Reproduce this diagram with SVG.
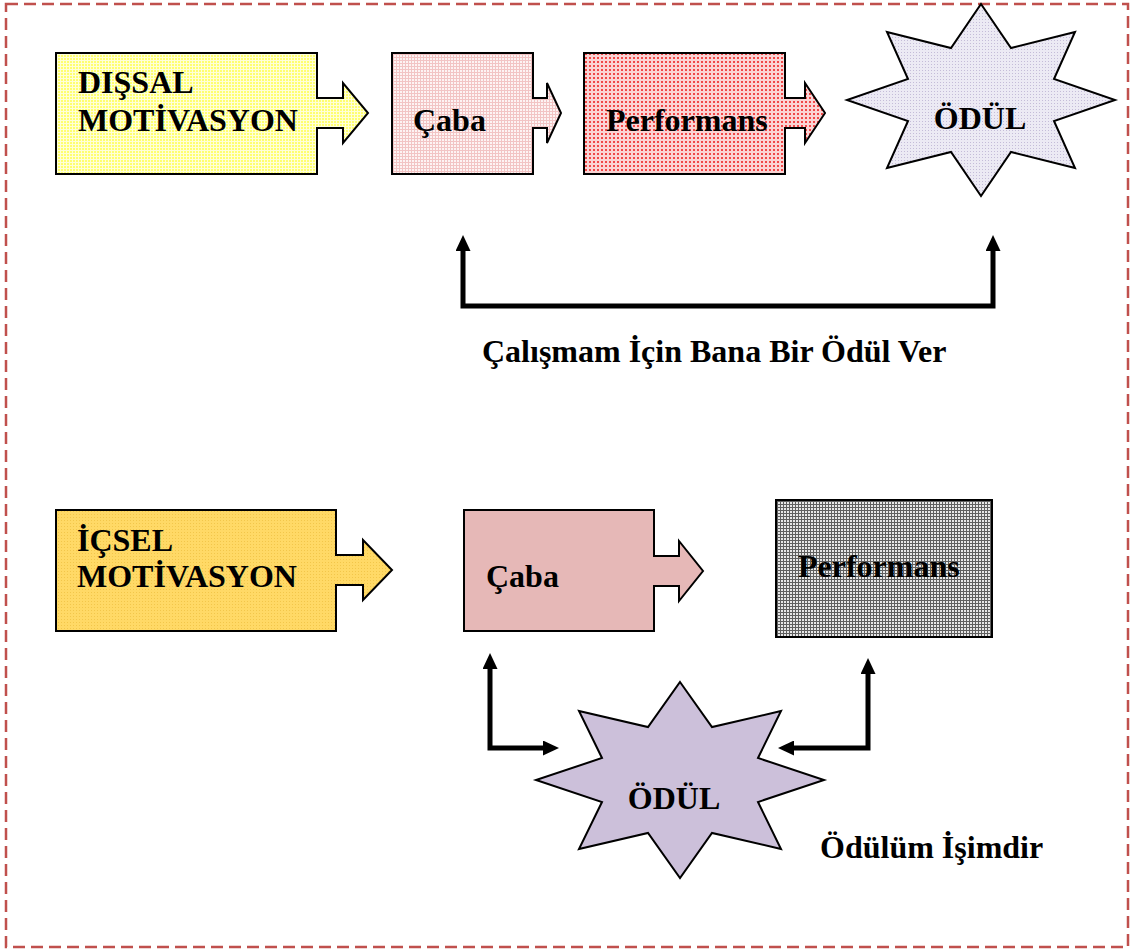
<svg xmlns="http://www.w3.org/2000/svg" width="1133" height="952" viewBox="0 0 1133 952">
<style>
.shape{stroke:#000;stroke-width:2;stroke-linejoin:miter}
.t{font-family:"Liberation Serif","Times New Roman",serif;font-weight:bold;font-size:32px;fill:#000}
.conn{fill:none;stroke:#000;stroke-width:5;stroke-linejoin:miter}
</style>
<defs>
<pattern id="pYellow" width="3" height="3" patternUnits="userSpaceOnUse">
<rect width="3" height="3" fill="#ffff70"/>
<path d="M0,0.5H3M0.5,0V3" stroke="#ffffd8" stroke-width="1"/>
</pattern>
<pattern id="pPinkLight" width="3" height="3" patternUnits="userSpaceOnUse">
<rect width="3" height="3" fill="#fdf3f3"/>
<path d="M0,0.5H3M0.5,0V3" stroke="#f2c4c4" stroke-width="1"/>
</pattern>
<pattern id="pRed" width="4" height="4" patternUnits="userSpaceOnUse">
<rect width="4" height="4" fill="#fbd4d4"/>
<rect x="1" y="1" width="2" height="2" fill="#f04848"/>
</pattern>
<pattern id="pLav" width="3" height="3" patternUnits="userSpaceOnUse">
<rect width="3" height="3" fill="#eceaf4"/>
<rect x="1" y="1" width="1" height="1" fill="#c4bcd8"/>
</pattern>
<pattern id="pGold" width="3" height="3" patternUnits="userSpaceOnUse">
<rect width="3" height="3" fill="#ffd966"/>
<rect x="1" y="1" width="1" height="1" fill="#f2c64a"/>
</pattern>
<pattern id="pGrey" width="3" height="3" patternUnits="userSpaceOnUse">
<rect width="3" height="3" fill="#e8e8e8"/>
<path d="M0,0.5H3M0.5,0V3" stroke="#606060" stroke-width="1"/>
</pattern>
<marker id="ah" viewBox="0 0 16 15" refX="0" refY="7.5" markerWidth="16" markerHeight="15" markerUnits="userSpaceOnUse" orient="auto-start-reverse">
<path d="M0,0 L16,7.5 L0,15 z" fill="#000"/>
</marker>
</defs>

<rect x="6" y="4" width="1122" height="943" fill="none" stroke="#c0504d" stroke-width="2.5" stroke-dasharray="12,6"/>

<g id="dissal">
<polygon class="shape" fill="url(#pYellow)" points="56,53 317,53 317,98 343,98 343,83 368,113 343,143 343,128 317,128 317,174 56,174"/>
<text class="t" x="78" y="93">DIŞSAL</text>
<text class="t" x="78" y="131">MOTİVASYON</text>
</g>

<g id="caba1">
<polygon class="shape" fill="url(#pPinkLight)" points="392,53 533,53 533,98 547,98 547,83 561,113 547,143 547,128 533,128 533,174 392,174"/>
<text class="t" x="413" y="131">Çaba</text>
</g>

<g id="performans1">
<polygon class="shape" fill="url(#pRed)" points="584,53 785,53 785,98 805,98 805,83 825,113 805,143 805,128 785,128 785,174 584,174"/>
<text class="t" x="606" y="131">Performans</text>
</g>

<g id="odul1">
<polygon class="shape" fill="url(#pLav)" points="981,4 1011,48 1075,32 1054,79 1115,100 1054,121 1075,168 1011,152 981,196 951,152 887,168 908,121 847,100 908,79 887,32 951,48"/>
<text class="t" x="980" y="129" text-anchor="middle">ÖDÜL</text>
</g>

<g id="icsel">
<polygon class="shape" fill="url(#pGold)" points="56,510 336,510 336,555 363,555 363,540 392,570 363,600 363,585 336,585 336,631 56,631"/>
<text class="t" x="77" y="551">İÇSEL</text>
<text class="t" x="77" y="587">MOTİVASYON</text>
</g>

<g id="caba2">
<polygon class="shape" fill="#e6b8b7" points="464,510 654,510 654,556 679,556 679,541 703,571 679,601 679,586 654,586 654,631 464,631"/>
<text class="t" x="486" y="587">Çaba</text>
</g>

<g id="performans2">
<rect class="shape" fill="url(#pGrey)" x="776" y="500" width="216" height="137"/>
<text class="t" x="798" y="577">Performans</text>
</g>

<g id="odul2">
<polygon class="shape" fill="#ccc0da" points="680,682 712,727 781,711 758,758 824,780 758,802 781,849 712,833 680,878 648,833 579,849 602,802 536,780 602,758 579,711 648,727"/>
<text class="t" x="674" y="809" text-anchor="middle">ÖDÜL</text>
</g>

<g id="connectors">
<path class="conn" d="M463,251 V306 H993 V251" marker-start="url(#ah)" marker-end="url(#ah)"/>
<path class="conn" d="M490,669 V748 H543" marker-start="url(#ah)" marker-end="url(#ah)"/>
<path class="conn" d="M868,674 V748 H794" marker-start="url(#ah)" marker-end="url(#ah)"/>
</g>

<g id="labels">
<text class="t" x="482" y="362">Çalışmam İçin Bana Bir Ödül Ver</text>
<text class="t" x="820" y="858">Ödülüm İşimdir</text>
</g>
</svg>
